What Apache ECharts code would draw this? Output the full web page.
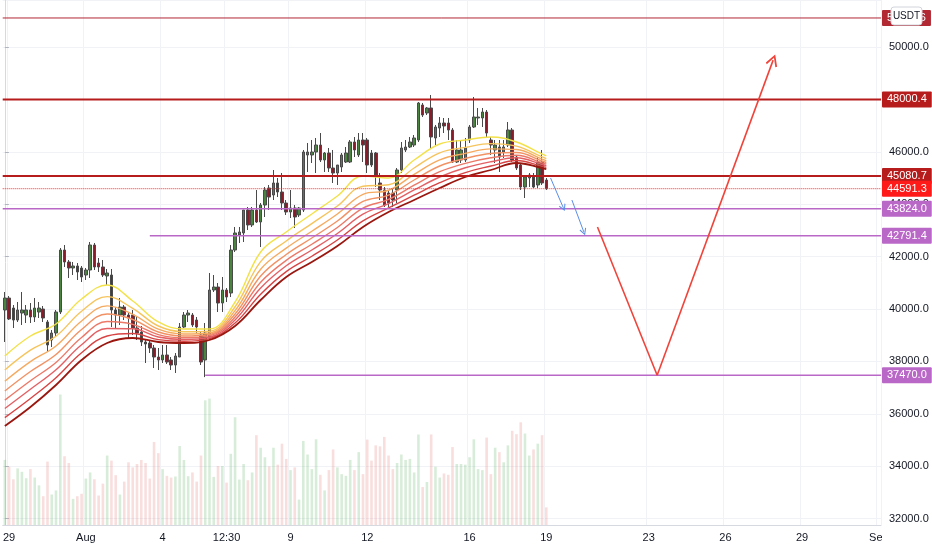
<!DOCTYPE html>
<html>
<head>
    <meta charset="UTF-8">
    <title>BTCUSDT 4H</title>
    <script src="https://cdn.jsdelivr.net/npm/echarts@6/dist/echarts.min.js"></script>
    <style>
        html, body { margin: 0; padding: 0; background: #ffffff; }
        #main { width: 932px; height: 550px; }
    </style>
</head>
<body>
    <div id="main"></div>
    <script>
        // 4h slots, slot 0 = Jul 28 20:00, slot 205 = Sep 1 00:00
        var slotCount = 206;
        var tickLabels = [[1, '29'], [19, 'Aug'], [37, '4'], [52, '12:30'], [67, '9'], [85, '12'],
            [109, '16'], [127, '19'], [151, '23'], [169, '26'], [187, '29'], [205, 'Sep']];

        // [open, close, low, high]
        var ohlc = [
            [39961, 40419, 38740, 40648], [40419, 39618, 39579, 40496], [40037, 39579, 39274, 40152], [39579, 39961, 39503, 40266],
            [39846, 39961, 39389, 40648], [39770, 39961, 39465, 40152], [39961, 39694, 39465, 40228], [39694, 40037, 39503, 40419],
            [39884, 40037, 39656, 40266], [39999, 39656, 39503, 40114], [39503, 38625, 38358, 39579], [38816, 39083, 38549, 39198],
            [39083, 39884, 38969, 39961], [39884, 42251, 39808, 42328], [42251, 41793, 41603, 42442], [41793, 41564, 41183, 41870],
            [41564, 41641, 41297, 41793], [41641, 41412, 41106, 41755], [41564, 41221, 41030, 41641], [41297, 41488, 41106, 41564],
            [41488, 42442, 41183, 42557], [42442, 41603, 41488, 42519], [41755, 41603, 41412, 41946], [41603, 41297, 41221, 41870],
            [41259, 41374, 40915, 41526], [41297, 39961, 39312, 41526], [39961, 39770, 39274, 40075], [39770, 40075, 39389, 40419],
            [40075, 39770, 39579, 40152], [39770, 39656, 38893, 39846], [39770, 39274, 39007, 39961], [39274, 39083, 38816, 39694],
            [39122, 38740, 38587, 39351], [38740, 38664, 37938, 38816], [38702, 38511, 38320, 38778], [38511, 38167, 37747, 38625],
            [38167, 38053, 37671, 38511], [38053, 38244, 37938, 38625], [38244, 37976, 37900, 38625], [38053, 37862, 37671, 38167],
            [37862, 38206, 37557, 38320], [38167, 39312, 38167, 39465], [39312, 39770, 39274, 39884], [39770, 39846, 39503, 39961],
            [39770, 39389, 39312, 39846], [39579, 39312, 39083, 39694], [39007, 37976, 37862, 39122], [38053, 39083, 37400, 39465],
            [38931, 40725, 38816, 41374], [40725, 40839, 40648, 41297], [40839, 40228, 39884, 40991], [40228, 40725, 39884, 41221],
            [40725, 40457, 40266, 40801], [40610, 42251, 40457, 42442], [42251, 42901, 42175, 43130], [42824, 42939, 42519, 43130],
            [42901, 43778, 42557, 43778], [43778, 43206, 43015, 43893], [43206, 43778, 43130, 43893], [43778, 43320, 43282, 44542],
            [43320, 43969, 42366, 44045], [43969, 44542, 43511, 44656], [44618, 44274, 43778, 44733], [44351, 44809, 44160, 45305],
            [44809, 44465, 44274, 45000], [44465, 44045, 43778, 45190], [44045, 43702, 43588, 44160], [43702, 43855, 43473, 44542],
            [43855, 43511, 43091, 43969], [43588, 43855, 43511, 43893], [43778, 45992, 43702, 46069], [45878, 45992, 45229, 46336],
            [45878, 45992, 45572, 46450], [45992, 46259, 45190, 46527], [46259, 45687, 45610, 46717], [45687, 45954, 45229, 45992],
            [45954, 45381, 45229, 46145], [45381, 45190, 44809, 46069], [45190, 45496, 44733, 45496], [45420, 45878, 45229, 45954],
            [45610, 45954, 45572, 46183], [45610, 46374, 45572, 46450], [46374, 46069, 45801, 46565], [45878, 46450, 45801, 46717],
            [46450, 46259, 45610, 46717], [46450, 45496, 45190, 46527], [45954, 45496, 45420, 46069], [45954, 45114, 44656, 45992],
            [44809, 44542, 44160, 45190], [44542, 43969, 43893, 44656], [44427, 44045, 43893, 44542], [44427, 44160, 43893, 44618],
            [44542, 45305, 44045, 45381], [45305, 46145, 45190, 46374], [46069, 46183, 45992, 46450], [46183, 46374, 46145, 46565],
            [46259, 46527, 46183, 46641], [46450, 47863, 46374, 47901], [47786, 47404, 47328, 47863], [47481, 47672, 47404, 47710],
            [47672, 46565, 46145, 48168], [46527, 46946, 46259, 47023], [46908, 47099, 46565, 47328], [47099, 46985, 46717, 47290],
            [47099, 46832, 46450, 47290], [46832, 45610, 45572, 46908], [45610, 46069, 45572, 46450], [45687, 46069, 45572, 46450],
            [45687, 46145, 45610, 46527], [46450, 46946, 46336, 47023], [46946, 47328, 46908, 48092], [47290, 47328, 47023, 47672],
            [47290, 47519, 46946, 47672], [47519, 46717, 46527, 47595], [46450, 46259, 45878, 46565], [46069, 46259, 45572, 46450],
            [46183, 45801, 45229, 46450], [45992, 46183, 45763, 46450], [46259, 46832, 46183, 47137], [46832, 45687, 45610, 46908],
            [45801, 45381, 45305, 45878], [45496, 44656, 44542, 45572], [44656, 45038, 44236, 45114], [45000, 45114, 44656, 45190],
            [45038, 44656, 44618, 45190], [44733, 45610, 44618, 45801], [45610, 44809, 44733, 46069], [44923, 44591.3, 44542, 45000]
        ];

        var volumes = [
            192, 172, 135, 167, 157, 138, 165, 140, 117, 85,
            187, 90, 102, 385, 203, 183, 77, 85, 92, 137,
            155, 135, 87, 122, 205, 190, 147, 90, 128, 185,
            170, 180, 192, 183, 137, 245, 212, 165, 145, 140,
            143, 233, 192, 144, 155, 128, 205, 368, 373, 142,
            174, 174, 125, 210, 318, 134, 180, 132, 155, 265,
            228, 200, 173, 228, 178, 240, 195, 162, 170, 75,
            248, 208, 165, 253, 148, 102, 162, 223, 170, 150,
            145, 192, 162, 215, 150, 252, 190, 235, 232, 260,
            205, 165, 183, 208, 192, 195, 155, 267, 112, 127,
            267, 172, 140, 152, 148, 230, 180, 180, 178, 200,
            253, 165, 162, 258, 150, 228, 215, 185, 235, 278,
            268, 303, 270, 205, 223, 240, 265, 52
        ];

        // moving-average ribbon, fastest (yellow) to slowest (dark red), read at these slots
        var ribbonSlots = [0, 6, 12, 18, 24, 30, 36, 42, 48, 54, 60, 66, 72, 78, 84, 90, 96, 102, 108, 114, 120, 126, 127];
        var ribbon = [
            [38205, 38969, 39427, 40381, 40916, 40305, 39504, 39237, 39237, 40267, 42175, 42939, 43626, 44313, 45076, 44999, 45687, 46298, 46450, 46565, 46374, 45916, 45840],
            [37671, 38427, 38961, 39915, 40473, 40023, 39351, 39130, 39153, 40084, 41809, 42595, 43259, 43931, 44687, 44740, 45382, 45962, 46168, 46313, 46214, 45809, 45741],
            [37243, 37993, 38589, 39543, 40119, 39797, 39229, 39044, 39085, 39938, 41515, 42321, 42966, 43626, 44376, 44532, 45137, 45693, 45942, 46111, 46085, 45723, 45661],
            [36869, 37614, 38263, 39217, 39809, 39599, 39122, 38969, 39026, 39809, 41259, 42080, 42709, 43358, 44103, 44350, 44923, 45458, 45744, 45935, 45973, 45649, 45591],
            [36522, 37262, 37960, 38914, 39521, 39415, 39023, 38900, 38972, 39691, 41021, 41857, 42471, 43110, 43851, 44182, 44725, 45240, 45560, 45771, 45869, 45579, 45527],
            [36202, 36936, 37681, 38635, 39255, 39246, 38931, 38836, 38921, 39581, 40801, 41650, 42251, 42881, 43617, 44026, 44542, 45038, 45391, 45620, 45772, 45515, 45467],
            [35855, 36584, 37378, 38332, 38968, 39062, 38832, 38766, 38867, 39462, 40563, 41427, 42013, 42633, 43364, 43858, 44343, 44820, 45207, 45456, 45668, 45445, 45403],
            [35534, 36259, 37099, 38053, 38702, 38893, 38740, 38702, 38816, 39352, 40343, 41221, 41793, 42404, 43131, 43702, 44160, 44618, 45038, 45305, 45572, 45381, 45343]
        ];

        var levels = [51107.6, 48000.4, 45080.7, 44591.3, 43824.0, 42791.4, 37470.0];
        var levelStart = [-0.5, -0.5, -0.5, -0.5, -0.5, 34, 47];

        // drawn arrows: [slot, price]
        var forecastPath = [[139, 43130], [153, 37470], [180.2, 49500]];
        var bluePaths = [
            [[128, 45000], [131, 43860]],
            [[133, 44160], [135.8, 42940]]
        ];

        var ribbonColors = ['#f3e14a', '#f6c45c', '#f5aa60', '#f29264', '#ec7968', '#e36064', '#d84444', '#9a1710'];
        var levelStyle = [
            { line: '#b22833', width: 1, type: 'solid', bg: '#b22833', fg: '#ffffff' },
            { line: '#b71c1c', width: 2, type: 'solid', bg: '#b71c1c', fg: '#ffffff' },
            { line: '#b71c1c', width: 2, type: 'solid', bg: '#b71c1c', fg: '#ffffff' },
            { line: '#f23030', width: 1, type: 'dotted', bg: '#ff1a1a', fg: '#ffffff' },
            { line: '#ba68c8', width: 1.5, type: 'solid', bg: '#ba68c8', fg: '#ffffff' },
            { line: '#ba68c8', width: 1.5, type: 'solid', bg: '#ba68c8', fg: '#ffffff' },
            { line: '#ba68c8', width: 1.5, type: 'solid', bg: '#ba68c8', fg: '#ffffff' }
        ];
        // thin open arrowhead, pointing up before rotation
        var chevron = 'path://M5,0 L10,9 L8.8,10 L5,3 L1.2,10 L0,9 Z';

        var labelMap = {};
        tickLabels.forEach(function (t) { labelMap[t[0]] = t[1]; });
        var categories = [];
        for (var i = 0; i < slotCount; i++) categories.push(String(i));

        var font = "'Liberation Sans', 'DejaVu Sans', sans-serif";
        var chart = echarts.init(document.getElementById('main'));

        var series = [];

        series.push({
            name: 'Volume',
            type: 'bar',
            xAxisIndex: 0,
            yAxisIndex: 1,
            barWidth: 2.6,
            silent: true,
            z: 1,
            data: volumes.map(function (v, k) {
                var up = ohlc[k][1] >= ohlc[k][0];
                return { value: v, itemStyle: { color: up ? 'rgba(76,175,80,0.22)' : 'rgba(229,115,115,0.24)' } };
            })
        });

        series.push({
            name: 'BTCUSDT',
            type: 'candlestick',
            xAxisIndex: 0,
            yAxisIndex: 0,
            barWidth: 3,
            z: 3,
            itemStyle: {
                color: '#4a8540',
                color0: '#8a1c2a',
                borderColor: '#4a4a4a',
                borderColor0: '#4a4a4a',
                borderWidth: 1
            },
            data: ohlc
        });

        ribbon.forEach(function (line, k) {
            series.push({
                name: 'MA' + (k + 1),
                type: 'line',
                xAxisIndex: 1,
                yAxisIndex: 0,
                symbol: 'none',
                smooth: 0.4,
                silent: true,
                z: 4,
                lineStyle: { color: ribbonColors[k], width: k === ribbon.length - 1 ? 1.8 : 1.4 },
                data: ribbonSlots.map(function (s, j) { return [s, line[j]]; })
            });
        });

        levels.forEach(function (v, k) {
            var st = levelStyle[k];
            series.push({
                name: 'level' + k,
                type: 'line',
                xAxisIndex: 1,
                yAxisIndex: 0,
                symbol: 'none',
                silent: true,
                z: 6,
                lineStyle: { color: st.line, width: st.width, type: st.type },
                data: [[levelStart[k], v], [slotCount - 0.5, v]],
                endLabel: {
                    show: true,
                    formatter: v.toFixed(1),
                    distance: 1,
                    backgroundColor: st.bg,
                    color: st.fg,
                    fontFamily: font,
                    fontSize: 11,
                    padding: [3, 5, 2, 5],
                    borderRadius: 1
                }
            });
        });

        // forecast: first leg plain, second leg with the arrowhead
        series.push({
            name: 'forecast',
            type: 'lines',
            coordinateSystem: 'cartesian2d',
            xAxisIndex: 1,
            yAxisIndex: 0,
            silent: true,
            z: 7,
            symbol: ['none', 'none'],
            lineStyle: { color: '#f0443a', width: 1.6, opacity: 1 },
            data: [{ coords: [forecastPath[0], forecastPath[1]] }]
        });
        series.push({
            name: 'forecastHead',
            type: 'lines',
            coordinateSystem: 'cartesian2d',
            xAxisIndex: 1,
            yAxisIndex: 0,
            silent: true,
            z: 7,
            symbol: ['none', chevron],
            symbolSize: [13, 12],
            lineStyle: { color: '#f0443a', width: 1.6, opacity: 1 },
            data: [{ coords: [forecastPath[1], forecastPath[2]] }]
        });

        series.push({
            name: 'path',
            type: 'lines',
            coordinateSystem: 'cartesian2d',
            xAxisIndex: 1,
            yAxisIndex: 0,
            silent: true,
            z: 7,
            symbol: ['none', chevron],
            symbolSize: [8, 7],
            lineStyle: { color: '#5b8ee6', width: 1, opacity: 1 },
            data: bluePaths.map(function (p) { return { coords: p }; })
        });

        var option = {
            animation: false,
            backgroundColor: '#ffffff',
            grid: { left: 0, right: 51, top: 0, bottom: 25 },
            xAxis: [
                {
                    type: 'category',
                    data: categories,
                    boundaryGap: true,
                    axisLine: { lineStyle: { color: '#d6d9e0' } },
                    axisTick: { show: false },
                    axisLabel: {
                        interval: function (idx) { return labelMap[idx] !== undefined; },
                        formatter: function (val, idx) { return labelMap[idx] || ''; },
                        color: '#131722',
                        fontFamily: font,
                        fontSize: 11,
                        margin: 7
                    },
                    splitLine: {
                        show: true,
                        interval: function (idx) { return labelMap[idx] !== undefined; },
                        lineStyle: { color: '#f0f2f6' }
                    }
                },
                {
                    type: 'value',
                    min: -0.5,
                    max: slotCount - 0.5,
                    show: false
                }
            ],
            yAxis: [
                {
                    type: 'value',
                    position: 'right',
                    min: 31755,
                    max: 51794,
                    splitNumber: 10,
                    scale: true,
                    axisLine: { show: true, lineStyle: { color: '#d6d9e0' } },
                    axisTick: { show: true, length: 4, lineStyle: { color: '#b2b5be' } },
                    axisLabel: {
                        formatter: function (v) { return v.toFixed(1); },
                        showMinLabel: false,
                        showMaxLabel: false,
                        color: '#131722',
                        fontFamily: font,
                        fontSize: 11,
                        margin: 8
                    },
                    splitLine: { lineStyle: { color: '#f0f2f6' } }
                },
                {
                    type: 'value',
                    min: 0,
                    max: 1549,
                    show: false,
                    splitLine: { show: false }
                }
            ],
            series: series,
            graphic: [
                {
                    type: 'rect',
                    z: 100,
                    zlevel: 1,
                    shape: { x: 882, y: 526, width: 50, height: 24 },
                    style: { fill: '#ffffff' }
                },
                {
                    type: 'rect',
                    z: 100,
                    zlevel: 1,
                    shape: { x: 891, y: 7, width: 31, height: 18, r: 3 },
                    style: { fill: '#ffffff', stroke: '#d1d4dc', lineWidth: 1 }
                },
                {
                    type: 'text',
                    z: 101,
                    zlevel: 1,
                    x: 906.5,
                    y: 16.5,
                    style: {
                        text: 'USDT', align: 'center', verticalAlign: 'middle',
                        fill: '#131722', font: "10px 'Liberation Sans', sans-serif"
                    }
                }
            ]
        };

        chart.setOption(option);
    </script>
</body>
</html>
